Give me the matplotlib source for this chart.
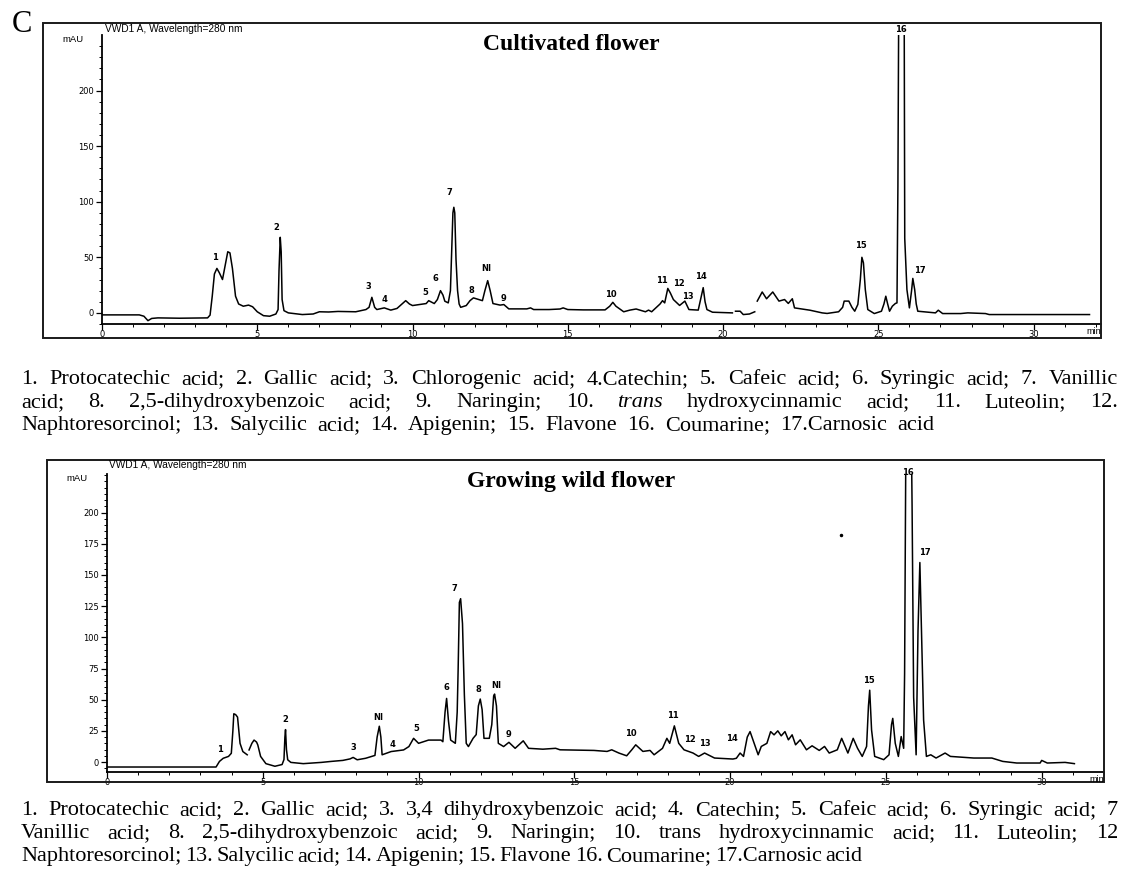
import numpy as np
import matplotlib
matplotlib.use("Agg")
import matplotlib.pyplot as plt
from matplotlib.patches import Rectangle
from matplotlib.ticker import FixedLocator, MultipleLocator

W, H = 1124, 877

# cultivated flower trace: retention time (min) and absorbance (mAU)
cult_time = [0.0, 1.2, 1.35, 1.48, 1.6, 1.8, 2.5, 3.4, 3.48, 3.55, 3.62, 3.70, 3.78, 3.88, 3.98, 4.05,
             4.12, 4.2, 4.3, 4.4, 4.55, 4.72, 4.85, 5.0, 5.2, 5.4, 5.6, 5.67, 5.70, 5.74, 5.77, 5.80,
             5.86, 6.0, 6.45, 6.8, 7.0, 7.3, 7.6, 8.17, 8.5, 8.6, 8.69, 8.78, 8.85, 9.09, 9.3, 9.5,
             9.78, 9.9, 10.0, 10.44, 10.52, 10.7, 10.8, 10.9, 10.98, 11.04, 11.15, 11.22, 11.26, 11.30,
             11.33, 11.36, 11.40, 11.45, 11.5, 11.55, 11.73, 11.85, 11.96, 12.14, 12.25, 12.33, 12.42,
             12.5, 12.59, 12.82, 12.94, 13.1, 13.68, 13.8, 13.9, 14.4, 14.75, 14.85, 15.0, 15.5, 16.2,
             16.35, 16.45, 16.55, 16.8, 17.0, 17.2, 17.5, 17.6, 17.7, 17.97, 18.05, 18.12, 18.22, 18.3,
             18.4, 18.6, 18.77, 18.9, 19.2, 19.3, 19.36, 19.42, 19.48, 19.66, 20.3, 20.35, 20.4, 20.55,
             20.65, 20.85, 21.02, 21.05, 21.1, 21.26, 21.4, 21.6, 21.8, 21.98, 22.1, 22.23, 22.3, 22.8,
             23.19, 23.35, 23.72, 23.85, 23.9, 24.05, 24.15, 24.24, 24.34, 24.42, 24.47, 24.52, 24.58,
             24.66, 24.87, 25.1, 25.18, 25.24, 25.3, 25.36, 25.45, 25.55, 25.6, 25.63, 25.66, 25.74,
             25.83, 25.85, 25.92, 26.0, 26.07, 26.11, 26.17, 26.22, 26.27, 26.84, 26.93, 27.07, 27.65,
             27.88, 28.45, 28.57, 31.8]
cult_mau = [-1.8, -1.8, -3, -7, -5, -4.5, -4.8, -4.5, -2, 15, 35, 40, 36, 30, 45, 55,
            54, 40, 15, 8, 6, 7, 5.5, 1, -2.5, -3, -1, 3, 38, 68, 55, 12,
            2, 0, -1.5, -1, 1.0, 0.8, 1.3, 1.0, 3, 5, 14, 5, 3, 4.5, 2.5, 4,
            11, 8, 6.6, 8.4, 11, 8.4, 12, 20, 16, 10.5, 9, 20, 55, 90,
            95, 90, 48, 20, 8, 5, 6.6, 11, 13.5, 12, 11, 20, 29,
            20, 8.4, 7, 7.5, 3.6, 3.6, 4.5, 3, 3, 3.5, 4.5, 3, 2.7, 2.7,
            6, 9.5, 6, 1, 2.5, 3.5, 1, 2.5, 1, 8, 11, 9, 22, 18,
            12, 6.7, 10.6, 3, 2.5, 15, 22.7, 10, 3, 0.6, 0, np.nan, 1.5, 1.5,
            -1.5, -1.0, 1, np.nan, 10.6, 18.8, 12.7, 18.8, 10.6, 12, 8.5, 12.7, 4.5, 2.4,
            0, -0.5, 1, 5, 10.6, 10.6, 5, 1.5, 7.6, 30, 50, 45, 21,
            3, -0.6, 1.5, 8, 15, 8, 1.5, 6, 8.5, 9, 114, 300, 400,
            300, 67, 21, 4.5, 20, 31, 21, 8, 1.5, 0, 2.4, -0.6, -0.6,
            0, -0.6, -1.5, -1.5]

cult_labels = ["1", "2", "3", "4", "5", "6", "7", "8", "NI", "9", "10", "11", "12", "13", "14", "15", "16", "17"]
cult_label_x = [3.65, 5.6, 8.57, 9.11, 10.41, 10.73, 11.18, 11.9, 12.37, 12.94, 16.4, 18.02, 18.59, 18.88,
                19.29, 24.44, 25.72, 26.35]
cult_label_y = [49.5, 77, 24, 12, 18, 30.5, 108, 20, 39.5, 13, 16.7, 29.4, 26.7, 15, 32.4, 61, 255, 38]

# growing wild flower trace
wild_time = [0, 3.5, 3.61, 3.73, 3.9, 3.99, 4.04, 4.07, 4.13, 4.19, 4.27, 4.36, 4.5, 4.53, 4.56, 4.65,
             4.72, 4.8, 4.84, 4.93, 5.1, 5.39, 5.62, 5.68, 5.71, 5.73, 5.76, 5.8, 5.9, 6.3, 6.88, 7.2,
             7.57, 7.8, 7.9, 8.03, 8.3, 8.5, 8.6, 8.67, 8.74, 8.79, 8.83, 9.12, 9.52, 9.69, 9.84, 10.0,
             10.32, 10.72, 10.78, 10.85, 10.9, 10.96, 11.03, 11.18, 11.24, 11.27, 11.31, 11.35, 11.41,
             11.47, 11.53, 11.6, 11.75, 11.85, 11.92, 11.98, 12.04, 12.1, 12.27, 12.35, 12.41, 12.44,
             12.5, 12.56, 12.73, 12.9, 13.1, 13.36, 13.53, 13.99, 14.4, 14.54, 15.63, 16.05, 16.2,
             16.43, 16.68, 16.85, 16.97, 17.2, 17.43, 17.56, 17.83, 17.97, 18.06, 18.21, 18.35, 18.52,
             18.81, 18.99, 19.18, 19.5, 20.09, 20.2, 20.32, 20.43, 20.55, 20.64, 20.77, 20.9, 21.0,
             21.18, 21.3, 21.41, 21.53, 21.64, 21.76, 21.87, 21.99, 22.1, 22.25, 22.45, 22.63, 22.86,
             23.03, 23.18, 23.44, 23.58, 23.69, 23.78, 23.95, 24.09, 24.24, 24.38, 24.44, 24.48, 24.54,
             24.64, 24.93, 25.1, 25.18, 25.22, 25.3, 25.4, 25.49, 25.57, 25.6, 25.65, 25.72, 25.8,
             25.84, 25.89, 25.97, 26.03, 26.09, 26.15, 26.21, 26.3, 26.44, 26.61, 26.9, 27.07, 27.82,
             28.4, 28.75, 29.2, 29.95, 30.0, 30.18, 30.75, 31.05]
wild_mau = [-4, -4, 0.5, 3, 4.5, 7, 25, 38.7, 38, 36, 15, 8.4, 5.8, np.nan, 9.7, 15,
            17.6, 16, 13.7, 4.5, -1.3, -3.4, -2, 2, 20, 26, 10, 1.8, -0.3, -1.3, -0.3, 0.5,
            1.3, 2.5, 3.7, 1.8, 3, 4.5, 5.3, 20, 28.7, 20, 5.8, 8.4, 9.7, 12.4, 19, 15,
            17.6, 17.6, 16.3, 40, 51, 33, 17.6, 15, 40, 74, 128, 131, 111,
            54, 15, 12.4, 19, 22, 45, 50.5, 42, 19, 19, 30, 53, 54.5,
            45, 15, 12.4, 15.8, 11, 17, 11, 10.3, 11, 9.8, 9.3, 8.5, 9.8,
            7.2, 5, 10, 13.8, 8.5, 9.3, 5.8, 11, 19, 15, 29, 15, 9.8,
            7.2, 4.5, 7.2, 3.2, 2.4, 3, 7.2, 4.5, 20, 24.4, 15, 5.8, 12.5,
            15, 24.4, 21.8, 25, 21, 24.4, 17.8, 21.8, 13.8, 17.8, 9.8, 13, 9.3,
            12.5, 7.2, 9.8, 19, 12.5, 7.2, 19, 11, 4.5, 12.5, 45, 57.6, 25.7,
            4.5, 1.9, 5.8, 30, 35, 15, 4.5, 20.4, 11, 71, 300, 420, 300,
            206, 52, 5.8, 105, 160, 96, 33.7, 4.5, 5.8, 3.2, 7.2, 4.5, 3.2,
            3.2, 0.5, -0.8, -0.8, 1.3, -0.8, -0.3, -1.3]

wild_labels = ["1", "2", "3", "NI", "4", "5", "6", "7", "8", "NI", "9", "10", "11", "12", "13", "14", "15", "16", "17"]
wild_label_x = [3.61, 5.73, 7.9, 8.72, 9.17, 9.94, 10.9, 11.15, 11.93, 12.48, 12.9, 16.8, 18.17, 18.7,
                19.2, 20.06, 24.47, 25.72, 26.25]
wild_label_y = [9.7, 34, 12, 36, 13.7, 27, 60, 139, 58, 61, 22, 22.5, 37, 17.8, 14.6, 19, 65.5, 232, 168]

cult_caption = [
    "1. Protocatechic acid; 2. Gallic acid; 3. Chlorogenic acid; 4.Catechin; 5. Cafeic acid; 6. Syringic acid; 7. Vanillic",
    "acid; 8. 2,5-dihydroxybenzoic acid; 9. Naringin; 10. trans hydroxycinnamic acid; 11. Luteolin; 12.",
    "Naphtoresorcinol; 13. Salycilic acid; 14. Apigenin; 15. Flavone 16. Coumarine; 17.Carnosic acid",
]
wild_caption = [
    "1. Protocatechic acid; 2. Gallic acid; 3. 3,4 dihydroxybenzoic acid; 4. Catechin; 5. Cafeic acid; 6. Syringic acid; 7",
    "Vanillic acid; 8. 2,5-dihydroxybenzoic acid; 9. Naringin; 10. trans hydroxycinnamic acid; 11. Luteolin; 12",
    "Naphtoresorcinol; 13. Salycilic acid; 14. Apigenin; 15. Flavone 16. Coumarine; 17.Carnosic acid",
]


def fx(x):
    return x / W


def fy(y):
    return 1 - y / H


def chromatogram(fig, frame, axbox, xlim, ylim, yticks, yminor, t, v, labels, lx, ly, title, title_y):
    x0, y0, x1, y1 = frame
    fig.add_artist(Rectangle((fx(x0), fy(y1)), fx(x1 - x0), (y1 - y0) / H, transform=fig.transFigure,
                             fill=False, lw=1.4, ec="#1a1a1a"))
    ax_l, ax_t, ax_r, ax_b = axbox
    ax = fig.add_axes([fx(ax_l), fy(ax_b), fx(ax_r - ax_l), (ax_b - ax_t) / H])
    ax.plot(t, v, color="black", lw=1.1)
    ax.set_xlim(*xlim)
    ax.set_ylim(*ylim)
    ax.spines["top"].set_visible(False)
    ax.spines["right"].set_visible(False)
    for s in ("left", "bottom"):
        ax.spines[s].set_linewidth(1.3)
    ax.set_yticks(yticks)
    ax.yaxis.set_minor_locator(FixedLocator(np.arange(ylim[0] - ylim[0] % yminor, ylim[1], yminor)))
    ax.set_xticks(np.arange(0, 31, 5))
    ax.xaxis.set_minor_locator(MultipleLocator(1))
    ax.tick_params(axis="both", which="major", direction="out", length=4, width=0.9, labelsize=6, pad=0.5)
    ax.tick_params(axis="both", which="minor", direction="out", length=2, width=0.7)
    ax.tick_params(axis="y", pad=2)
    for i in range(len(labels)):
        ax.text(lx[i], ly[i], labels[i], ha="center", va="center", fontsize=6, fontweight="bold",
                clip_on=False)
    fig.text(fx(x0 + 62), fy(y0 + 5.5), "VWD1 A, Wavelength=280 nm", fontsize=7.3, ha="left", va="center",
             family="Liberation Sans")
    fig.text(fx(x0 + 19), fy(ax_t + 5), "mAU", fontsize=6.8, ha="left", va="center", family="Liberation Sans")
    fig.text(fx(x1 - 15), fy(ax_b + 7), "min", fontsize=6.5, ha="left", va="center", family="Liberation Sans")
    fig.text(fx(571), fy(title_y), title, fontsize=17, fontweight="bold", family="Liberation Serif",
             ha="center", va="center")
    return ax


def caption_line(fig, text, x0, x1, y, size, italic_words=()):
    # lay the words out one by one so the line fills x0..x1 like justified print
    r = fig.canvas.get_renderer()
    words = text.split(" ")
    arts = []
    widths = []
    for w in words:
        st = "italic" if w in italic_words else "normal"
        a = fig.text(0, 0, w, fontsize=size, family="Liberation Serif", style=st, ha="left", va="baseline")
        widths.append(a.get_window_extent(renderer=r).width)
        arts.append(a)
    space = size * 100 / 72 * 0.25
    gap = (x1 - x0 - sum(widths)) / (len(words) - 1)
    gap = max(gap, space * 0.4)
    x = x0
    for a, wd in zip(arts, widths):
        a.set_position((fx(x), fy(y)))
        x += wd + gap


fig = plt.figure(figsize=(W / 100, H / 100), dpi=100)
fig.canvas.draw()

fig.text(fx(22), fy(25), "C", fontsize=22, family="Liberation Serif", ha="center", va="center")

chromatogram(fig, (43, 23, 1101, 338), (102, 35, 1101, 324), (0, 32.17), (-10, 250),
             [0, 50, 100, 150, 200], 10, cult_time, cult_mau, cult_labels, cult_label_x, cult_label_y,
             "Cultivated flower", 44)
ax2 = chromatogram(fig, (47, 460, 1104, 782), (107, 474, 1104, 772), (0, 32.0), (-8.0, 231),
                   [0, 25, 50, 75, 100, 125, 150, 175, 200], 5, wild_time, wild_mau, wild_labels,
                   wild_label_x, wild_label_y, "Growing wild flower", 481)
ax2.plot([23.55], [182], marker="o", ms=1.5, color="black")

size = 16
caption_line(fig, cult_caption[0], 21, 1118, 384, size)
caption_line(fig, cult_caption[1], 21, 1118, 407, size, italic_words=("trans",))
caption_line(fig, cult_caption[2], 21, 934, 430, size)
caption_line(fig, wild_caption[0], 21, 1118, 815, size)
caption_line(fig, wild_caption[1], 21, 1118, 838, size)
caption_line(fig, wild_caption[2], 21, 862, 861, size)

fig.savefig("out.png", dpi=100)
